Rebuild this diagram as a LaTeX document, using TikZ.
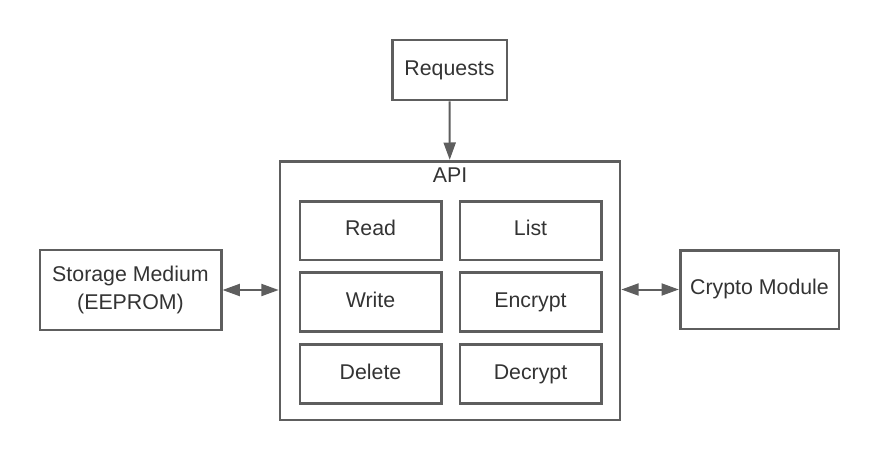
\documentclass[tikz,border=0pt]{standalone}
\usepackage{fontspec}
\setmainfont{Liberation Sans}
\usetikzlibrary{arrows.meta, positioning}

\begin{document}
\begin{tikzpicture}[x=0.75pt, y=-0.75pt,
    box/.style={draw=line, line width=2pt, inner sep=0pt, text=txt,
      font=\fontsize{16}{21}\selectfont, align=center},
    one/.style={box, text height=11.5pt, text depth=3.5pt},
    cell/.style={one, minimum width=106pt, minimum height=44pt},
    link/.style={draw=line, line width=1.5pt,
      arrows={Triangle[length=13pt, width=9pt]-Triangle[length=13pt, width=9pt]}},
    feed/.style={draw=line, line width=1.5pt,
      -{Triangle[length=13pt, width=9pt]}}]
    \definecolor{line}{HTML}{5E5E5E}
    \definecolor{txt}{HTML}{333333}
    \useasboundingbox (0,0) rectangle (880,460);

    % outer boxes
    \node[one, minimum width=86pt, minimum height=45pt] (req) at (449.5,70) {Requests};
    \node[box, minimum width=255pt, minimum height=194pt] (api) at (450,290.5) {};
    \node[txt, font=\fontsize{16}{21}\selectfont, text height=11.5pt, text depth=3.5pt] (apilbl) at (450,177) {API};
    \node[box, minimum width=136pt, minimum height=60pt] (store) at (130.5,290) {Storage Medium\\(EEPROM)};
    \node[one, minimum width=119pt, minimum height=59pt] (crypto) at (759.5,289.5) {Crypto Module};

    % inner boxes
    \node[cell] (read)    at (370.5,230.5) {Read};
    \node[cell] (list)    at (530.5,230.5) {List};
    \node[cell] (write)   at (370.5,302)   {Write};
    \node[cell] (encrypt) at (530.5,302)   {Encrypt};
    \node[cell] (delete)  at (370.5,374)   {Delete};
    \node[cell] (decrypt) at (530.5,374)   {Decrypt};

    % connectors
    \draw[feed] (req) -- (api);
    \draw[link] (store.east) -- (store.east -| api.west);
    \draw[link] (api.east |- crypto.west) -- (crypto.west);
\end{tikzpicture}
\end{document}
